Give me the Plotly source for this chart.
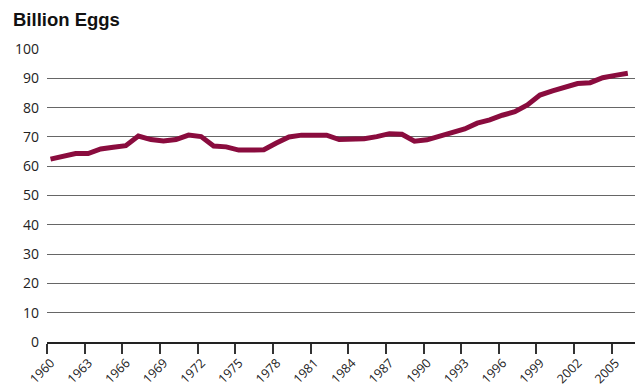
import plotly.graph_objects as go

years = list(range(1960, 2007))
eggs = [62.4, 63.2, 64.3, 64.3, 65.9, 66.5, 67.0, 70.3, 69.1, 68.6,
        69.1, 70.6, 70.1, 66.9, 66.6, 65.5, 65.5, 65.6, 67.9, 70.0,
        70.6, 70.7, 70.6, 69.1, 69.1, 69.4, 70.1, 71.1, 70.9, 68.5,
        69.0, 70.3, 71.6, 72.7, 74.7, 75.8, 77.4, 78.6, 80.9, 84.3,
        85.7, 87.1, 88.2, 88.5, 90.2, 91.0, 91.7]
tick_years = list(range(1960, 2006, 3))
y_ticks = list(range(0, 101, 10))

# ticks sit slightly left of each year's point (category-style axis)
shift = 0.28

fig = go.Figure()
fig.add_trace(go.Scatter(
    x=years, y=eggs, mode="lines",
    line=dict(color="#8a0c3e", width=5),
    hoverinfo="skip", showlegend=False,
))

# page body has an 8px default margin, so figure is 8px smaller
fig.update_layout(
    width=636, height=382,
    margin=dict(l=39, r=9, t=41, b=48),
    paper_bgcolor="white", plot_bgcolor="white",
    font=dict(family="Open Sans, Liberation Sans", size=12, color="#222"),
    annotations=[dict(
        text="<b>Billion Eggs</b>", xref="paper", yref="paper",
        x=0, y=1, xanchor="left", yanchor="middle",
        xshift=-36, yshift=30, showarrow=False,
        font=dict(family="Liberation Sans, Arial", size=18.5, color="#111"),
    )],
)

fig.update_xaxes(
    range=[1960 - shift, 1960 - shift + (635 - 47) / 12.55],
    tickmode="array",
    tickvals=[y - shift for y in tick_years],
    ticktext=[str(y) for y in tick_years],
    tickangle=-45,
    ticks="outside", ticklen=10, tickwidth=1.5, tickcolor="#333",
    showline=True, linecolor="#222", linewidth=1.5,
    showgrid=False, zeroline=False, automargin=False,
    ticklabelstandoff=-3, ticklabelshift=4,
    tickfont=dict(size=12.5, color="#222"),
)
fig.update_yaxes(
    range=[0, 100],
    tickmode="array", tickvals=y_ticks,
    showgrid=True, gridcolor="#666666", gridwidth=1.4,
    zeroline=False, showline=False, ticks="",
    ticklabelstandoff=7, automargin=False,
    tickfont=dict(size=14, color="#222"),
)

fig.write_html("out.html")
